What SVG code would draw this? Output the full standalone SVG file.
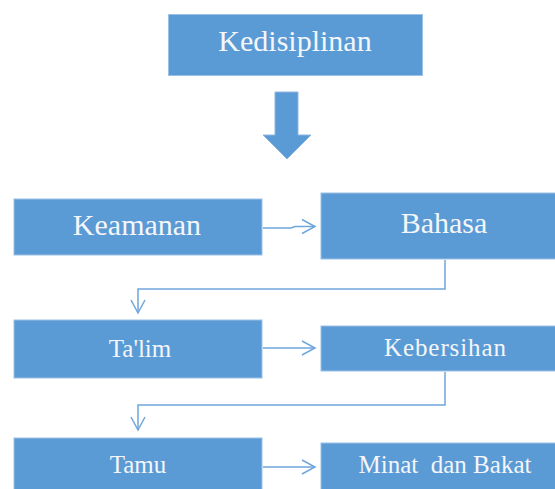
<svg xmlns="http://www.w3.org/2000/svg" width="555" height="489" viewBox="0 0 555 489">
<style>
.box{fill:#5b9bd5;stroke:#9cc0e6;stroke-width:1}
.t{font-family:"Liberation Serif","Times New Roman",serif;fill:#f4f6fa;text-anchor:middle}
.big{font-size:30px}
.sm{font-size:25px}
.con{fill:none;stroke:#6fa6dc;stroke-width:1.5}
</style>
<defs>
<marker id="ah" markerUnits="userSpaceOnUse" markerWidth="16" markerHeight="18" refX="13" refY="8" orient="auto" overflow="visible">
<path d="M0,1 L13,8 L0,15" fill="none" stroke="#6fa6dc" stroke-width="1.5"/>
</marker>
</defs>
<rect width="555" height="489" fill="#ffffff"/>
<g id="kedisiplinan">
<rect class="box" x="168.5" y="14.5" width="254" height="61"/>
<text class="t big" x="295" y="51">Kedisiplinan</text>
</g>
<g id="big-arrow">
<path d="M275,92 H298 V135 H311 L287,159 L263,135 H275 Z" fill="#5b9bd5" stroke="#8fb6e0" stroke-width="1"/>
</g>
<g id="keamanan">
<rect class="box" x="14" y="199" width="248" height="56"/>
<text class="t big" x="137" y="235">Keamanan</text>
</g>
<g id="bahasa">
<rect class="box" x="321" y="193" width="248" height="66"/>
<text class="t big" x="444" y="233">Bahasa</text>
</g>
<g id="talim">
<rect class="box" x="14" y="320" width="248" height="58"/>
<text class="t sm" x="140" y="357">Ta'lim</text>
</g>
<g id="kebersihan">
<rect class="box" x="321" y="326" width="248" height="45"/>
<text class="t sm" x="445" y="356" textLength="122">Kebersihan</text>
</g>
<g id="tamu">
<rect class="box" x="14" y="438" width="248" height="60"/>
<text class="t sm" x="138" y="473">Tamu</text>
</g>
<g id="minat-dan-bakat">
<rect class="box" x="321" y="443" width="248" height="55"/>
<text class="t sm" x="445" y="473" xml:space="preserve">Minat  dan Bakat</text>
</g>
<g id="connectors">
<path class="con" d="M263,228 H291 L295,226.5 H315" marker-end="url(#ah)"/>
<path class="con" d="M445,260 V289 H138 V313" marker-end="url(#ah)"/>
<path class="con" d="M263,348 H315" marker-end="url(#ah)"/>
<path class="con" d="M445,372 V405 H138 V430" marker-end="url(#ah)"/>
<path class="con" d="M263,467 H315" marker-end="url(#ah)"/>
</g>
</svg>
